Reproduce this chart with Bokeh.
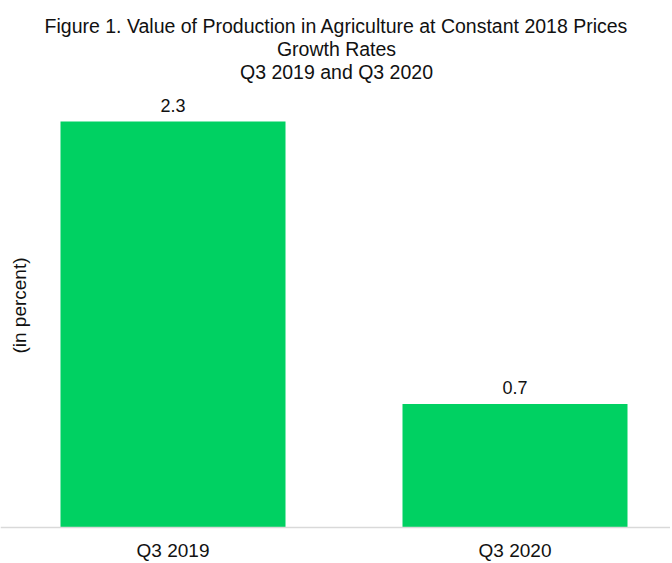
import math
from bokeh.plotting import figure
from bokeh.models import Range1d, Label, ColumnDataSource, Span
from bokeh.core.properties import value
from bokeh.embed import file_html
from bokeh.resources import INLINE

categories = ["Q3 2019", "Q3 2020"]
growth = [2.3, 0.7]
title_lines = ["Figure 1. Value of Production in Agriculture at Constant 2018 Prices",
               "Growth Rates",
               "Q3 2019 and Q3 2020"]
y_label = "(in percent)"

FONT = "Liberation Sans"
W, H = 670, 562
BASE = 527          # baseline pixel row from top
PX_PER_UNIT = 176.5
CAT_PX = 342.0
LEFT0 = 172.5       # px from left to first category centre

x0 = -LEFT0 / CAT_PX
x1 = x0 + W / CAT_PX
y0 = -(H - BASE) / PX_PER_UNIT
y1 = BASE / PX_PER_UNIT


def py(row):
    return (BASE - row) / PX_PER_UNIT


def px(col):
    return x0 + col / CAT_PX


p = figure(width=W, height=H, output_backend="svg", toolbar_location=None,
           x_range=Range1d(x0, x1), y_range=Range1d(y0, y1),
           min_border_left=0, min_border_right=0, min_border_top=0,
           min_border_bottom=0)
p.title.visible = False
p.outline_line_color = None
p.grid.visible = False
p.xaxis.visible = False
p.yaxis.visible = False
p.background_fill_color = "white"
p.border_fill_color = "white"

xs = list(range(len(categories)))
src = ColumnDataSource(dict(x=xs, top=growth, lab=[f"{v:.1f}" for v in growth],
                            cat=categories, zero=[0] * len(xs)))
p.vbar(x="x", top="top", bottom=0, width=225 / CAT_PX, source=src,
       fill_color="#00D162", line_color=None)
p.add_layout(Span(location=0, dimension="width", line_color="#d9d9d9", line_width=1.5))
p.text(x="x", y="top", text="lab", source=src, text_align="center",
       text_baseline="bottom", y_offset=-10, text_font=value(FONT),
       text_font_size="18px", text_color="#111111")
p.text(x="x", y="zero", text="cat", source=src, text_align="center",
       text_baseline="middle", y_offset=23, text_font=value(FONT),
       text_font_size="19px", text_color="#111111")

cx = px(336)
for i, line in enumerate(title_lines):
    p.add_layout(Label(x=cx, y=py(25 + 23 * i), text=line,
                       text_align="center", text_baseline="middle",
                       text_font=FONT, text_font_size="19.5px", text_color="#111111"))

p.add_layout(Label(x=px(19), y=py(305), text=y_label,
                   angle=math.pi / 2, text_align="center", text_baseline="middle",
                   text_font=FONT, text_font_size="19px", text_color="#111111"))

open("out.html", "w").write(file_html(p, INLINE))
